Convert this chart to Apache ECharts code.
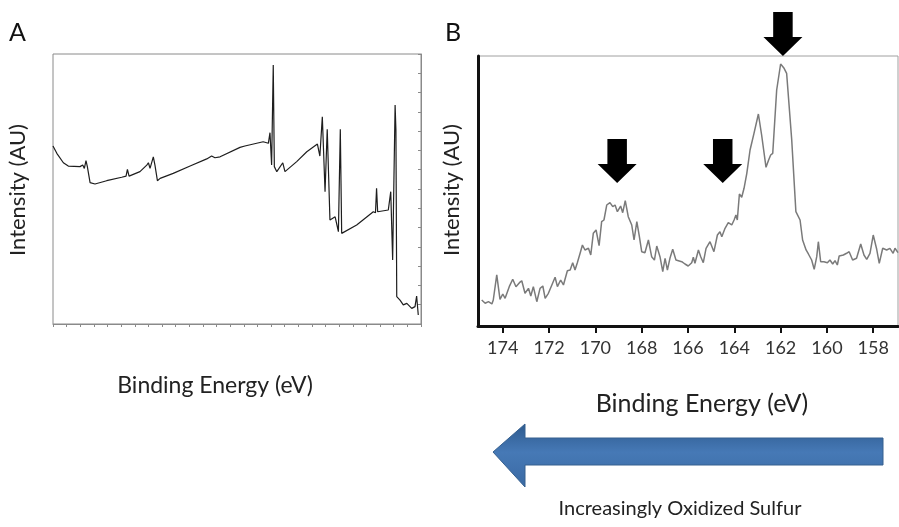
<!DOCTYPE html>
<html>
<head>
<meta charset="utf-8">
<script src="https://cdn.jsdelivr.net/npm/echarts@6/dist/echarts.min.js"></script>
<style>
html,body{margin:0;padding:0;background:#fff;}
#chart{width:899px;height:527px;}
</style>
</head>
<body>
<div id="chart"></div>
<script>
// Panel A: survey spectrum (binding energy eV, intensity AU)
const surveyEnergy = [1350,1336,1312,1294,1251,1241,1235,1229,1224,1214,1196,1153,1098,1082,1077,1071,1031,1006,1000,994,982,976,967,957,909,847,786,768,756,737,664,646,579,560,554,548,542,538,529,507,499,456,419,380,371,362,352,344,334,315,303,296,291,236,175,167,163,159,120,111,104,95,92,89,77,65,52,34,22,16,10];
const surveyIntensity = [9.23,8.85,8.36,8.19,8.16,8.24,8.07,8.47,8.16,7.33,7.26,7.43,7.61,7.67,8.02,7.67,7.90,8.24,8.36,8.07,8.67,8.24,7.43,7.55,7.81,8.19,8.56,8.71,8.62,8.67,9.16,9.23,9.45,9.37,9.92,8.24,13.43,8.16,7.90,8.36,7.90,8.42,8.93,9.33,8.71,10.75,6.86,10.10,5.39,5.56,4.79,10.10,4.70,5.13,5.82,5.77,7.04,5.82,5.91,6.86,3.32,11.36,10.06,1.42,1.24,0.99,1.07,0.81,0.90,1.45,0.47];

// Panel B: S 2p region
const sEnergy = [174.91,174.76,174.62,174.47,174.41,174.26,174.12,174.00,173.90,173.72,173.57,173.43,173.28,173.18,173.04,172.89,172.79,172.68,172.53,172.39,172.27,172.17,172.03,171.88,171.74,171.64,171.50,171.38,171.21,171.09,170.98,170.88,170.78,170.66,170.56,170.45,170.30,170.20,170.09,169.97,169.84,169.73,169.63,169.51,169.37,169.25,169.15,169.05,168.91,168.82,168.71,168.58,168.43,168.33,168.21,168.10,168.00,167.86,167.71,167.57,167.45,167.35,167.21,167.09,166.99,166.89,166.78,166.66,166.52,166.27,166.13,165.99,165.84,165.77,165.70,165.55,165.45,165.34,165.22,165.05,164.98,164.88,164.73,164.62,164.54,164.40,164.26,164.11,164.01,163.93,163.87,163.78,163.68,163.58,163.46,163.32,163.15,162.96,162.82,162.63,162.53,162.43,162.34,162.17,162.00,161.85,161.74,161.52,161.34,161.16,161.05,160.90,160.80,160.66,160.55,160.44,160.37,160.27,160.13,159.98,159.87,159.75,159.65,159.55,159.47,159.29,159.15,159.04,158.89,158.72,158.54,158.40,158.28,158.14,158.00,157.85,157.74,157.59,157.42,157.28,157.14,157.06,156.93];
const sIntensity = [9.63,8.41,9.0,8.15,9.63,18.9,9.89,11.85,10.26,14.56,17.30,14.56,16.04,16.78,12.11,13.96,11.11,14.56,9.0,13.96,14.81,10.26,12.11,15.19,18.04,14.56,17.04,15.19,20.48,20.74,23.44,20.74,23.44,26.93,30.0,28.15,28.78,26.30,34.33,35.56,29.74,38.63,39.26,44.81,45.67,44.19,44.81,42.33,44.44,41.96,46.41,40.48,37.41,31.85,38.63,33.07,27.52,27.15,31.85,25.67,24.44,29.63,25.67,20.11,25.07,20.74,25.07,28.41,24.44,23.81,22.96,22.22,23.44,25.44,23.22,28.15,25.67,23.44,28.78,31.22,31.85,27.52,33.70,34.93,33.07,36.19,38.26,37.41,39.26,41.11,39.26,48.89,47.67,51.0,56.56,65.19,71.37,78.52,70.74,58.78,61.22,63.33,63.96,87.41,97.04,95.44,93.59,68.89,42.33,39.26,31.85,28.15,26.67,24.44,21.0,25.67,31.22,23.81,23.81,23.44,24.44,22.96,24.19,22.59,25.93,26.30,26.93,27.52,24.44,25.07,30.37,26.30,24.70,26.93,33.70,28.41,23.22,28.78,28.15,28.78,26.93,28.78,27.15];
const sTickLabels = [158,160,162,164,166,168,170,172,174];

// Annotation arrows (energy, intensity of arrow tip)
const arrowEnergy = [169.06,164.50,161.90];
const arrowIntensity = [53.0,53.0,100.0];

const FONT = 'Lato';
const downArrow = 'path://M10,0 L30,0 L30,25 L40,25 L20,44 L0,25 L10,25 Z';

const chart = echarts.init(document.getElementById('chart'), null, {renderer:'canvas'});
chart.setOption({
  animation:false,
  backgroundColor:'#ffffff',
  grid:[
    {left:53, top:54, width:368, height:270, show:true, borderColor:'#8a8a8a', borderWidth:1, containLabel:false},
    {left:478, top:56, width:420, height:270, show:true, borderColor:'#a0a0a0', borderWidth:1, containLabel:false}
  ],
  xAxis:[
    {gridIndex:0, type:'value', min:0, max:1350, interval:50, inverse:true,
     axisLine:{show:true, lineStyle:{color:'#8a8a8a', width:1}},
     axisTick:{show:true, length:3, lineStyle:{color:'#8a8a8a'}},
     axisLabel:{show:false}, splitLine:{show:false}},
    {gridIndex:1, type:'value', min:156.93, max:175.07, inverse:true,
     axisLine:{show:true, onZero:false, lineStyle:{color:'#111', width:3}},
     axisTick:{show:true, length:7, customValues:sTickLabels, lineStyle:{color:'#111', width:2}},
     axisLabel:{show:true, customValues:sTickLabels, fontFamily:FONT, fontSize:18, color:'#333', margin:13},
     splitLine:{show:false}}
  ],
  yAxis:[
    {gridIndex:0, type:'value', min:0, max:14, interval:1,
     axisLine:{show:true, lineStyle:{color:'#8a8a8a', width:1}},
     axisTick:{show:true, length:3, lineStyle:{color:'#8a8a8a'}},
     axisLabel:{show:false}, splitLine:{show:false}},
    {gridIndex:1, type:'value', min:0, max:100,
     axisLine:{show:true, onZero:false, lineStyle:{color:'#111', width:3}},
     axisTick:{show:false}, axisLabel:{show:false}, splitLine:{show:false}}
  ],
  series:[
    {type:'line', xAxisIndex:0, yAxisIndex:0, symbol:'none',
     data:surveyEnergy.map((e,i)=>[e, surveyIntensity[i]]),
     lineStyle:{color:'#1e1e1e', width:1.2}},
    {type:'line', xAxisIndex:1, yAxisIndex:1, symbol:'none', clip:false,
     data:sEnergy.map((e,i)=>[e, sIntensity[i]]),
     lineStyle:{color:'#7a7a7a', width:1.5},
     markPoint:{
       symbol:downArrow, symbolSize:[39,44], symbolOffset:[0,-22],
       itemStyle:{color:'#000'}, label:{show:false},
       data:arrowEnergy.map((e,i)=>({coord:[e, arrowIntensity[i]]}))
     }}
  ],
  graphic:[
    {type:'text', left:9, top:20, style:{text:'A', fontFamily:FONT, fontSize:25, fill:'#111'}},
    {type:'text', left:445, top:20, style:{text:'B', fontFamily:FONT, fontSize:25, fill:'#111'}},
    {type:'text', x:18, y:190, rotation:Math.PI/2, style:{text:'Intensity (AU)', fontFamily:FONT, fontSize:22, fill:'#222', align:'center', verticalAlign:'middle'}},
    {type:'text', x:452, y:190, rotation:Math.PI/2, style:{text:'Intensity (AU)', fontFamily:FONT, fontSize:22, fill:'#222', align:'center', verticalAlign:'middle'}},
    {type:'text', x:215, y:386, style:{text:'Binding Energy (eV)', fontFamily:FONT, fontSize:23, fill:'#222', align:'center', verticalAlign:'middle'}},
    {type:'text', x:702, y:404, style:{text:'Binding Energy (eV)', fontFamily:FONT, fontSize:25, fill:'#222', align:'center', verticalAlign:'middle'}},
    {type:'polygon', shape:{points:[[493,452],[525,424],[525,438],[883,438],[883,465],[525,465],[525,487]]},
     style:{fill:new echarts.graphic.LinearGradient(0,0,0,1,[{offset:0,color:'#2d5a8e'},{offset:0.45,color:'#4679b6'},{offset:1,color:'#3a69a3'}]), stroke:'#36608f', lineWidth:1}},
    {type:'text', x:680, y:509, style:{text:'Increasingly Oxidized Sulfur', fontFamily:FONT, fontSize:20, fill:'#222', align:'center', verticalAlign:'middle'}}
  ]
});
</script>
</body>
</html>
